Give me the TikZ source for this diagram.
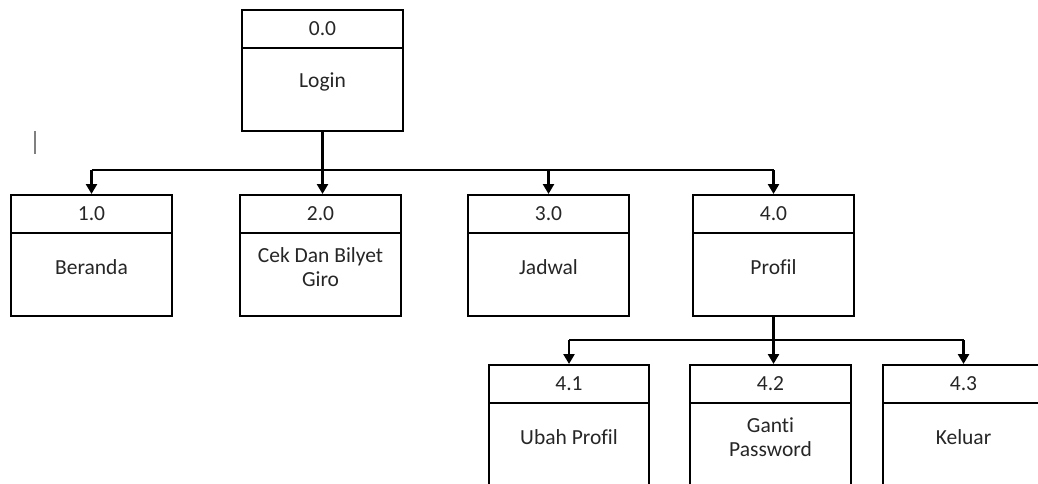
\documentclass[tikz,border=0pt]{standalone}
\usepackage{fontspec}
\setmainfont{Carlito}[Ligatures=NoCommon]
\usepackage{tikz}
\usetikzlibrary{positioning,calc,arrows.meta}

\tikzset{
  box/.style={draw,line width=2pt,rectangle,anchor=north west,inner sep=0pt,
    minimum width=161pt,minimum height=121pt},
  num/.style={font=\fontsize{21.5}{24}\selectfont,text=black!85},
  lbl/.style={font=\fontsize{21.5}{23.5}\selectfont,text=black!85,align=center},
  link/.style={line width=2.5pt},
  stem/.style={line width=3pt,-{Triangle[width=11pt,length=10pt]}},
  down/.style={line width=2.5pt,-{Triangle[width=11pt,length=10pt]}}
}

% box with number on top and label below
\newcommand{\procbox}[5]{%
  \node[box,#5] (#1) at (#2) {};
  \draw[line width=1.5pt] ($(#1.north west)+(0,39)$) -- ($(#1.north east)+(0,39)$);
  \node[num] (#1n) at ($(#1.north)+(0,20)$) {#3};
  \node[lbl] (#1l) at ($(#1.north)+(0,73)$) {#4};
}

\begin{document}
\begin{tikzpicture}[x=1pt,y=-1pt]
    \clip (0,0) rectangle (1038,484);
    \fill[white] (0,0) rectangle (1038,484);

    % Level 0
    \procbox{b0}{241,9}{0.0}{Login}{}

    % Level 1
    \procbox{b1}{10,194}{1.0}{Beranda}{}
    \procbox{b2}{239,194}{2.0}{Cek Dan Bilyet\\Giro}{}
    \procbox{b3}{467,194}{3.0}{Jadwal}{}
    \procbox{b4}{692,194}{4.0}{Profil}{}

    % Level 2
    \procbox{b41}{488,364}{4.1}{Ubah Profil}{minimum width=160pt,minimum height=140pt}
    \procbox{b42}{689,364}{4.2}{Ganti\\Password}{minimum width=161pt,minimum height=140pt}
    \procbox{b43}{882,364}{4.3}{Keluar}{minimum width=161pt,minimum height=140pt}

    % cursor mark
    \draw[gray,line width=1.5pt] (35,131) -- (35,154);

    % Connectors level 0 -> 1
    \coordinate (j0) at ($(b0.south)+(0,38)$);
    \draw[link] (b1.north |- j0) -- (b4.north |- j0);
    \draw[stem] (b0.south) -- (b0.south |- b2.north);
    \draw[down] (b1.north |- j0) -- (b1.north);
    \draw[down] (b3.north |- j0) -- (b3.north);
    \draw[down] (b4.north |- j0) -- (b4.north);

    % Connectors level 1 -> 2
    \coordinate (j4) at ($(b4.south)+(0,23)$);
    \draw[link] (b41.north |- j4) -- (b43.north |- j4);
    \draw[stem] (b4.south) -- (b4.south |- b42.north);
    \draw[down] (b41.north |- j4) -- (b41.north);
    \draw[down] (b43.north |- j4) -- (b43.north);
\end{tikzpicture}
\end{document}
